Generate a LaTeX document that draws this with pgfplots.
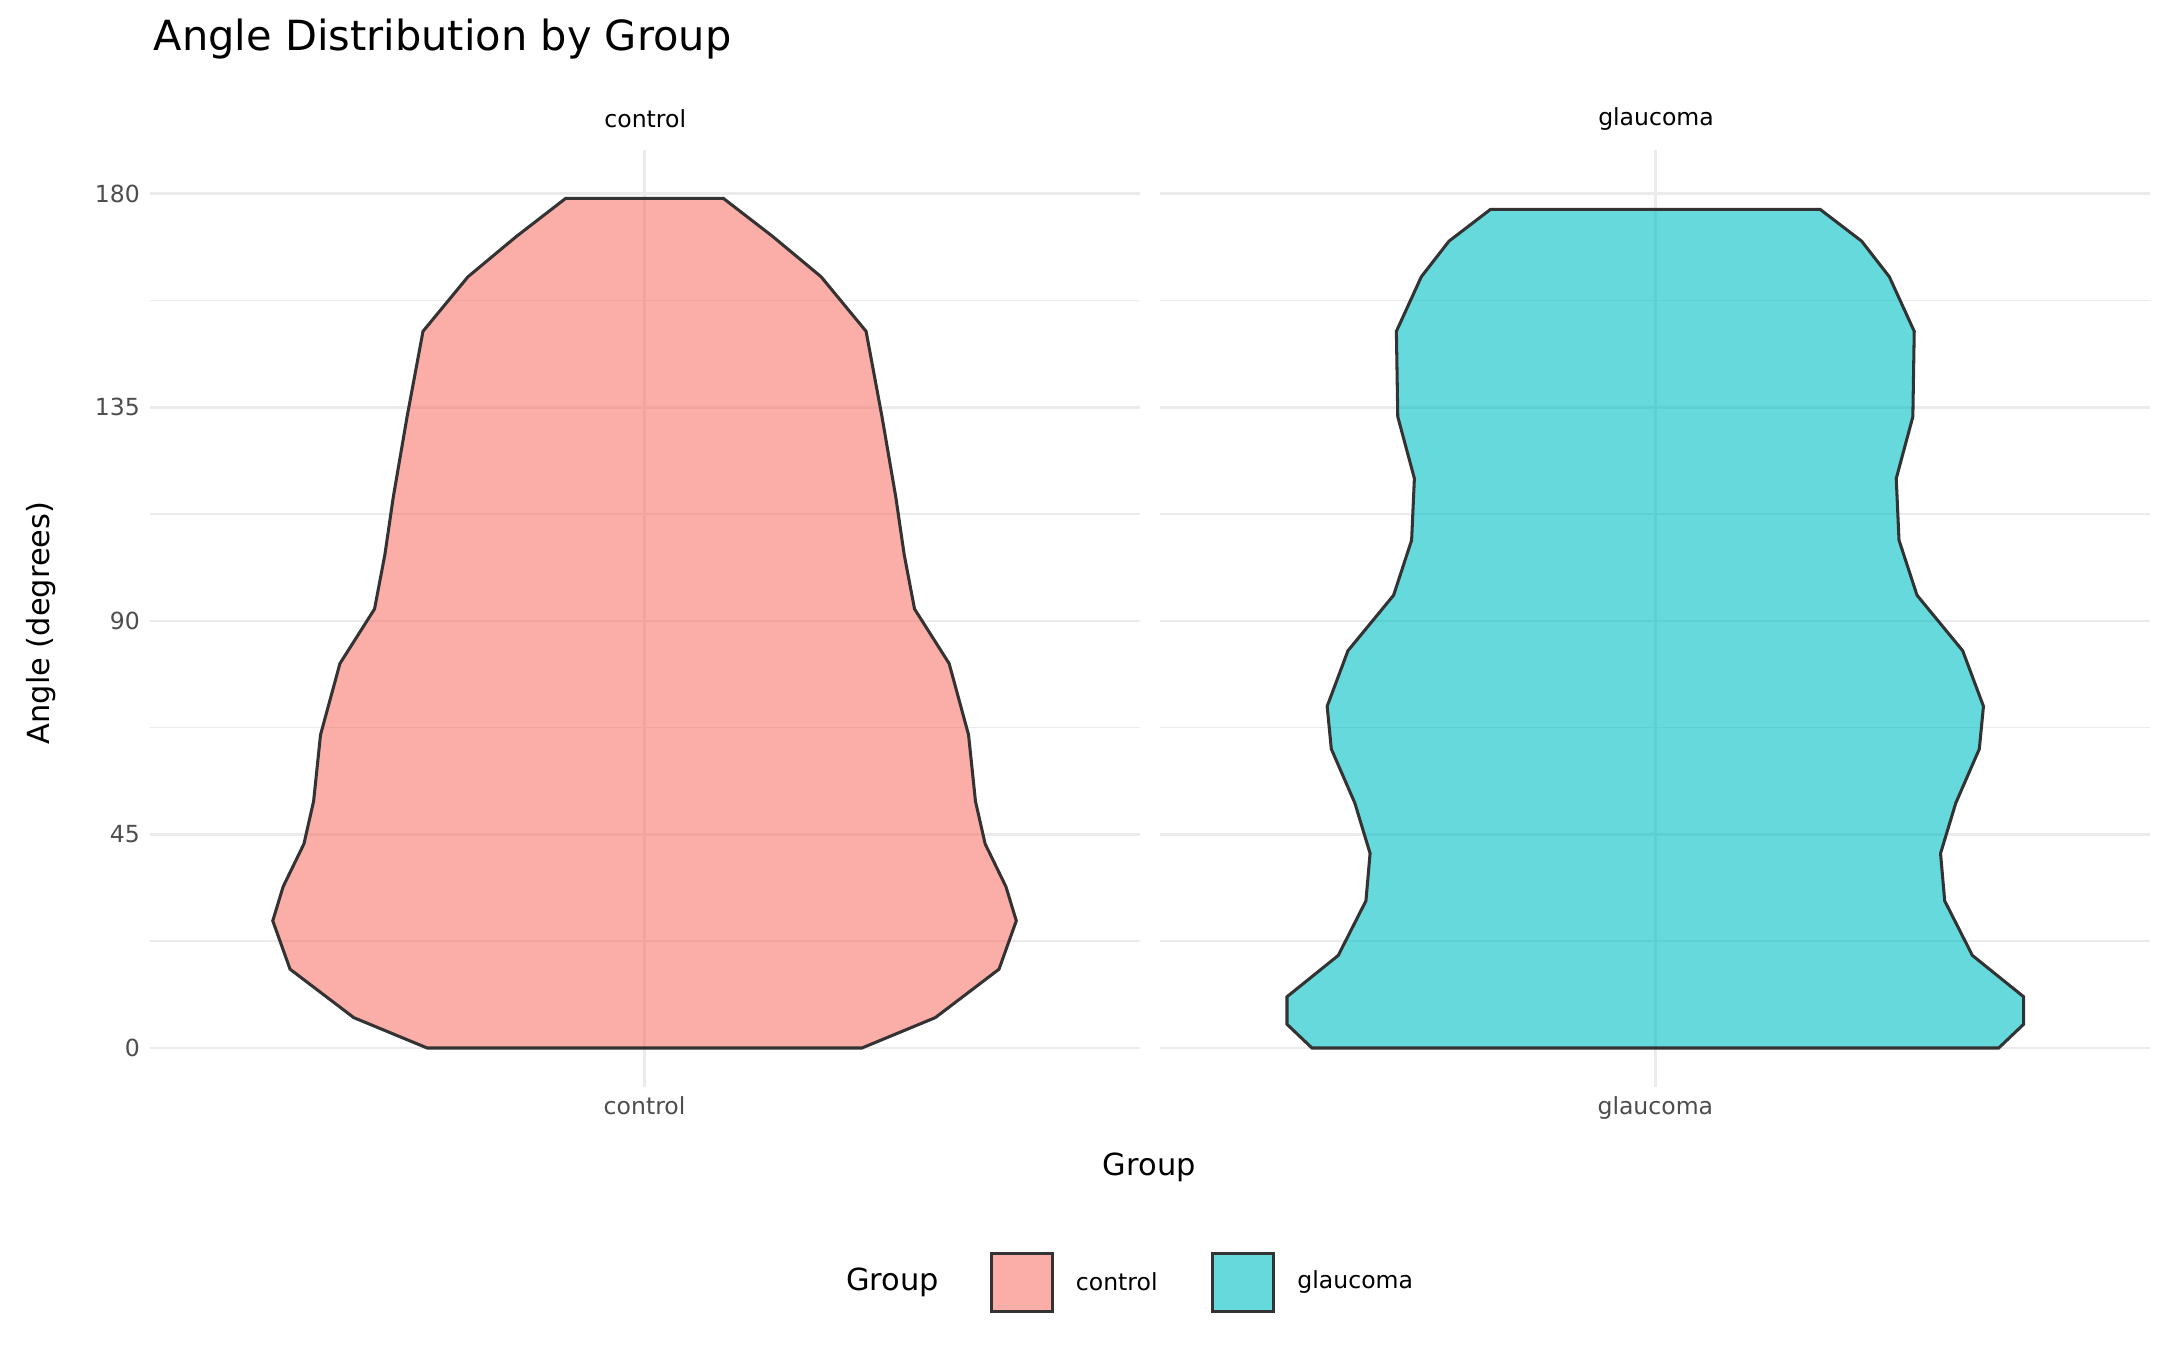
\documentclass[border=0pt]{standalone}
\usepackage{pgfplots}
\pgfplotsset{compat=1.18}
\usepackage{fontspec}
\setmainfont{DejaVu Sans}
\definecolor{ctl}{HTML}{F8766D}
\definecolor{gla}{HTML}{00BFC4}
\definecolor{gridc}{HTML}{EBEBEB}
\definecolor{tickc}{HTML}{4D4D4D}
\definecolor{edge}{HTML}{333333}
\pgfplotsset{
 panel/.style={scale only axis, width=357.5pt, height=338.5pt,
  xmin=-357.5, xmax=357.5, ymin=-8.2, ymax=189.3,
  axis line style={draw=none}, tick style={draw=none},
  ytick={0,45,90,135,180}, minor ytick={22.5,67.5,112.5,157.5},
  ymajorgrids, yminorgrids, xmajorgrids, xtick={0},
  major grid style={gridc, line width=0.9pt},
  minor grid style={gridc, line width=0.6pt},
  tick label style={font=\fontsize{8.5}{10}\selectfont, text=tickc},
  /pgf/number format/assume math mode=true,
  clip=false}
}
\begin{document}
\begin{tikzpicture}
\path (0pt,0pt) rectangle (780pt,487.5pt);
\node[anchor=west, font=\fontsize{15}{18}\selectfont] at (52pt,473.5pt) {Angle Distribution by Group};
\begin{axis}[panel, at={(54pt,95pt)}, anchor=south west, xticklabels={control}]
\addplot[draw=edge, line width=1.1pt, fill=ctl, fill opacity=0.6] coordinates {
(157,0)(210,6.4)(256,16.6)(268.5,26.8)(261,34)(246,43)(239,52)(234,66)(220,81)(195,92.5)(187.5,104)(181.5,116)(171.5,133)(160,151)(127.5,162.5)(92.5,171)(57,179)
(-57,179)(-92.5,171)(-127.5,162.5)(-160,151)(-171.5,133)(-181.5,116)(-187.5,104)(-195,92.5)(-220,81)(-234,66)(-239,52)(-246,43)(-261,34)(-268.5,26.8)(-256,16.6)(-210,6.4)(-157,0)} -- cycle;
\end{axis}
\begin{axis}[panel, at={(419pt,95pt)}, anchor=south west, xticklabels={glaucoma}, yticklabels={}]
\addplot[draw=edge, line width=1.1pt, fill=gla, fill opacity=0.6] coordinates {
(248,0)(266,5)(266,10.8)(229,19.5)(209,31)(206,41)(217,51.6)(234,63)(237,72)(222,83.7)(189,95.4)(176,107)(174,120)(186,133)(187,151)(169,162.5)(149,170)(119,176.7)
(-119,176.7)(-149,170)(-169,162.5)(-187,151)(-186,133)(-174,120)(-176,107)(-189,95.4)(-222,83.7)(-237,72)(-234,63)(-217,51.6)(-206,41)(-209,31)(-229,19.5)(-266,10.8)(-266,5)(-248,0)} -- cycle;
\end{axis}
\node[font=\fontsize{8.5}{10}\selectfont] at (233pt,444.5pt) {control};
\node[font=\fontsize{8.5}{10}\selectfont] at (598pt,444.5pt) {glaucoma};
\node[font=\fontsize{11}{13}\selectfont] at (415pt,66pt) {Group};
\node[font=\fontsize{11}{13}\selectfont, rotate=90] at (15pt,262.5pt) {Angle (degrees)};
\node[anchor=west, font=\fontsize{11}{13}\selectfont] at (302pt,24.5pt) {Group};
\draw[edge, line width=1.1pt, fill=ctl, fill opacity=0.6] (358pt,14pt) rectangle (380pt,35pt);
\node[anchor=west, font=\fontsize{8.5}{10}\selectfont] at (385pt,24.5pt) {control};
\draw[edge, line width=1.1pt, fill=gla, fill opacity=0.6] (438pt,14pt) rectangle (460pt,35pt);
\node[anchor=west, font=\fontsize{8.5}{10}\selectfont] at (465pt,24.5pt) {glaucoma};
\end{tikzpicture}
\end{document}
